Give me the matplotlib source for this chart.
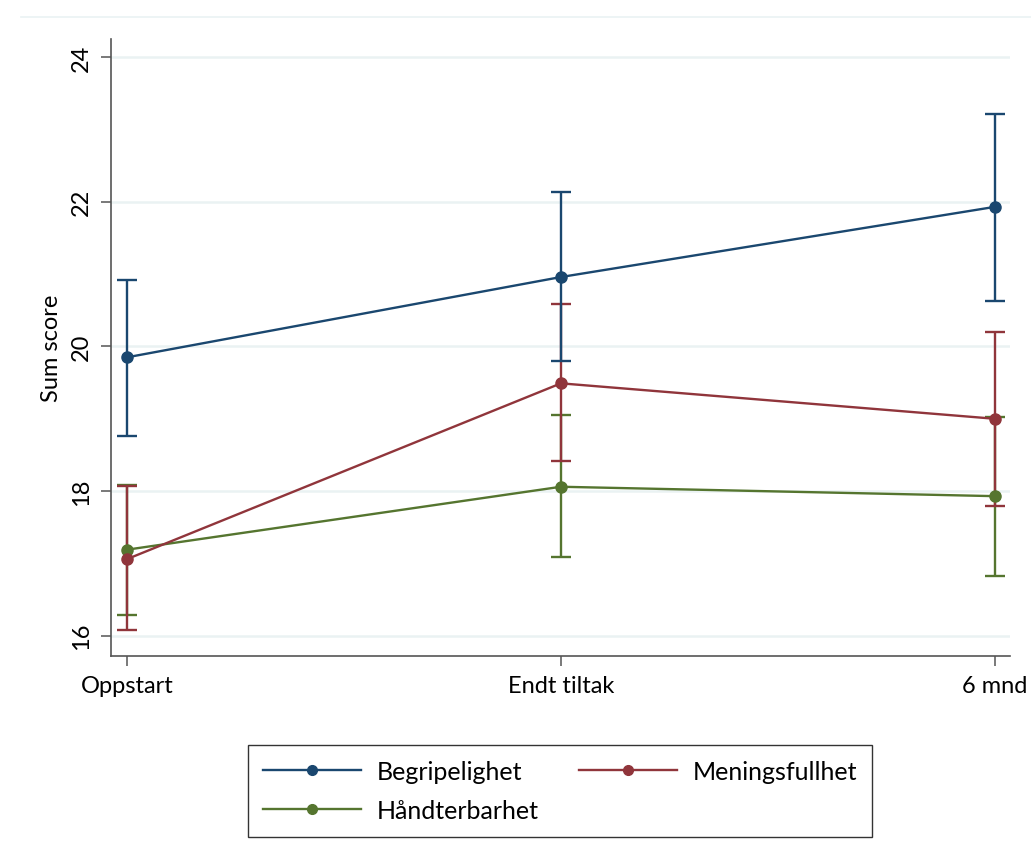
import matplotlib
matplotlib.use("Agg")
import matplotlib.pyplot as plt
from matplotlib.lines import Line2D

plt.rcParams['font.family'] = ['Lato', 'DejaVu Sans']

# tidspunkt og gjennomsnitt med konfidensintervall (lest av figuren)
tider = ["Oppstart", "Endt tiltak", "6 mnd"]
serier = ["Begripelighet", "Håndterbarhet", "Meningsfullhet"]

begrip = [19.85, 20.96, 21.93]
begrip_lav = [18.76, 19.80, 20.63]
begrip_hoy = [20.92, 22.13, 23.22]

handt = [17.19, 18.06, 17.93]
handt_lav = [16.28, 17.09, 16.83]
handt_hoy = [18.09, 19.05, 19.02]

mening = [17.06, 19.49, 19.00]
mening_lav = [16.08, 18.42, 17.80]
mening_hoy = [18.07, 20.59, 20.20]

farger = ["#1a476f", "#55752f", "#90353b"]

fig = plt.figure(figsize=(10.31, 8.53), dpi=100)
ax = fig.add_axes([0.1077, 0.2298, 0.8719, 0.7232])

x = list(range(len(tider)))
# tegn i rekkefølge: grønn, rød, blå øverst
for verdi, lav, hoy, farge in [(handt, handt_lav, handt_hoy, farger[1]),
                                (mening, mening_lav, mening_hoy, farger[2]),
                                (begrip, begrip_lav, begrip_hoy, farger[0])]:
    yerr = [[v - l for v, l in zip(verdi, lav)], [h - v for v, h in zip(verdi, hoy)]]
    ax.errorbar(x, verdi, yerr=yerr, color=farge, lw=1.7, elinewidth=1.7,
                capsize=7, capthick=1.7, marker="o", markersize=8, zorder=3)

ax.set_xlim(-0.037, 2.035)
ax.set_ylim(15.72, 24.25)
ax.set_xticks(x)
ax.set_xticklabels(tider, fontsize=17)
ax.set_yticks([16, 18, 20, 22, 24])
ax.set_yticklabels(["16", "18", "20", "22", "24"], fontsize=17, rotation=90, va="center")
ax.set_ylabel("Sum score", fontsize=17, labelpad=6)
ax.yaxis.grid(True, color="#eaf2f3", lw=1.8)
ax.set_axisbelow(True)
for side in ["top", "right"]:
    ax.spines[side].set_visible(False)
for side in ["left", "bottom"]:
    ax.spines[side].set_color("#555555")
    ax.spines[side].set_linewidth(1.2)
ax.tick_params(axis="both", length=7, width=1.1, color="#555555", pad=7)

handles = [Line2D([], [], color=farger[i], lw=1.7, marker="o", markersize=7) for i in range(3)]
leg = fig.legend(handles, serier, ncol=2, loc="center", bbox_to_anchor=(0.5436, 0.0715),
                 fontsize=18, frameon=True, fancybox=False, edgecolor="black",
                 handlelength=3.9, columnspacing=1.6, handletextpad=0.65,
                 borderpad=0.6, labelspacing=0.65)
leg.get_frame().set_linewidth(1.0)

# svak ramme øverst
fig.add_artist(Line2D([0.02, 1.0], [0.979, 0.979], color="#eaf2f3", lw=1.2))

fig.savefig("out.png", dpi=100, facecolor="white")
